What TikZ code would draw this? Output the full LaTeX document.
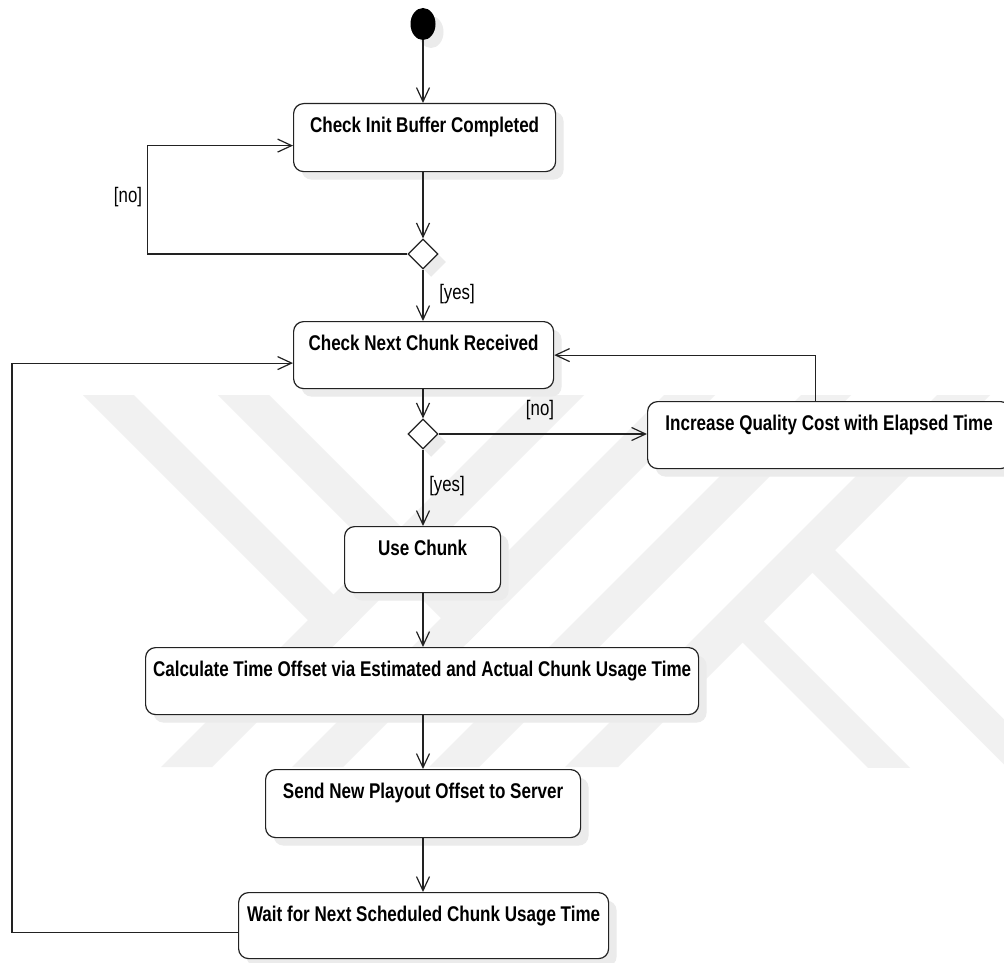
\documentclass[tikz,border=0pt]{standalone}
\usepackage{fontspec}
\setmainfont{Liberation Sans}
\newfontfamily\narrowfont{Liberation Sans}[FakeStretch=0.8]
\usetikzlibrary{arrows.meta,shapes.geometric,shadows,calc}

\definecolor{shade}{HTML}{EBEBEB}
\definecolor{emblemgray}{HTML}{F1F1F1}
\definecolor{ink}{HTML}{222222}

\tikzset{
  shade/.style={drop shadow={shadow xshift=8pt, shadow yshift=-8pt, fill=shade, opacity=1}},
  act/.style={draw=ink, line width=1.2pt, rounded corners=10pt, fill=white,
              anchor=north west, inner sep=0pt, shade},
  acttext/.style={anchor=base, yshift=-29pt, inner sep=0pt,
                  font=\narrowfont\bfseries\fontsize{21.3}{24}\selectfont},
  decision/.style={diamond, draw=ink, line width=1.2pt, fill=white, aspect=1,
                   minimum width=30pt, minimum height=30pt, inner sep=0pt, shade},
  initial/.style={ellipse, fill=black, minimum width=25pt, minimum height=32pt,
                  inner sep=0pt, shade},
  flow/.style={draw=ink, line width=1.2pt,
               -{Straight Barb[length=14pt,width=13pt,line width=1.2pt]}},
  guard/.style={inner sep=0pt, font=\narrowfont\fontsize{21}{24}\selectfont},
  band/.style={fill=emblemgray}
}

\begin{document}
\begin{tikzpicture}[x=1pt,y=-1pt]
\useasboundingbox (0,0) rectangle (1004,963);
\fill[white] (0,0) rectangle (1004,963);

% faint background emblem: diagonal bands
\begin{scope}
  \clip (0,395) rectangle (1004,767);
  \fill[band] (533,395) -- (584,395) -- (212,767) -- (161,767) -- cycle;
  \fill[band] (664,395) -- (715,395) -- (343,767) -- (292,767) -- cycle;
  \fill[band] (801,395) -- (851,395) -- (479,767) -- (429,767) -- cycle;
  \fill[band] (937,395) -- (990,395) -- (618,767) -- (565,767) -- cycle;
  \fill[band] (83,395) -- (134,395) -- (359,620) -- (333.5,645.5) -- cycle;
  \fill[band] (218,395) -- (269,395) -- (492,618) -- (466.5,643.5) -- cycle;
  \fill[band] (817.5,532.5) -- (1100,815.5) -- (1055,815.5) -- (795,555) -- cycle;
  \fill[band] (746,604) -- (958,816) -- (916,816) -- (725,625) -- cycle;
\end{scope}

% start point
\node[initial] (start) at (423,24) {};

% actions (top-left corner, size)
\node[act, minimum width=262pt, minimum height=68pt,
      label={[acttext]north:Check Init Buffer Completed}] (b1) at (293,103) {};
\node[decision] (d1) at (423,254) {};
\node[act, minimum width=260pt, minimum height=67pt,
      label={[acttext]north:Check Next Chunk Received}] (b2) at (293,321) {};
\node[decision] (d2) at (423,434) {};
\node[act, minimum width=363pt, minimum height=67pt,
      label={[acttext]north:Increase Quality Cost with Elapsed Time}] (b3) at (647,401) {};
\node[act, minimum width=156pt, minimum height=66pt,
      label={[acttext]north:Use Chunk}] (b4) at (344,526) {};
\node[act, minimum width=553pt, minimum height=67pt,
      label={[acttext]north:Calculate Time Offset via Estimated and Actual Chunk Usage Time}] (b5) at (145,647) {};
\node[act, minimum width=315pt, minimum height=68pt,
      label={[acttext]north:Send New Playout Offset to Server}] (b6) at (265,769) {};
\node[act, minimum width=370pt, minimum height=66pt,
      label={[acttext]north:Wait for Next Scheduled Chunk Usage Time}] (b7) at (238,892) {};

% guards
\node[guard] (g1) at (128,197) {[no]};
\node[guard] (g2) at (457,294) {[yes]};
\node[guard] (g3) at (540,410) {[no]};
\node[guard] (g4) at (447,486) {[yes]};

% control flow
\draw[flow] (start.south) -- (start.south |- b1.north);
\draw[flow] (b1.south -| d1) -- (d1.north);
\draw[flow] (d1.west) -- ++(-260,0) |- ([yshift=-8pt]b1.west);
\draw[flow] (d1.south) -- (d1.south |- b2.north);
\draw[flow] (b2.south -| d2) -- (d2.north);
\draw[flow] (d2.east) -- (d2.east -| b3.west);
\draw[flow] ([xshift=-14pt]b3.north) |- (b2.east);
\draw[flow] (d2.south) -- (d2.south |- b4.north);
\draw[flow] (b4.south -| d2) -- (d2 |- b5.north);
\draw[flow] (b5.south -| d2) -- (d2 |- b6.north);
\draw[flow] (b6.south -| d2) -- (d2 |- b7.north);
\draw[flow] ([yshift=-7pt]b7.west) -- ++(-226,0) |- ([yshift=-8pt]b2.west);
\end{tikzpicture}
\end{document}
